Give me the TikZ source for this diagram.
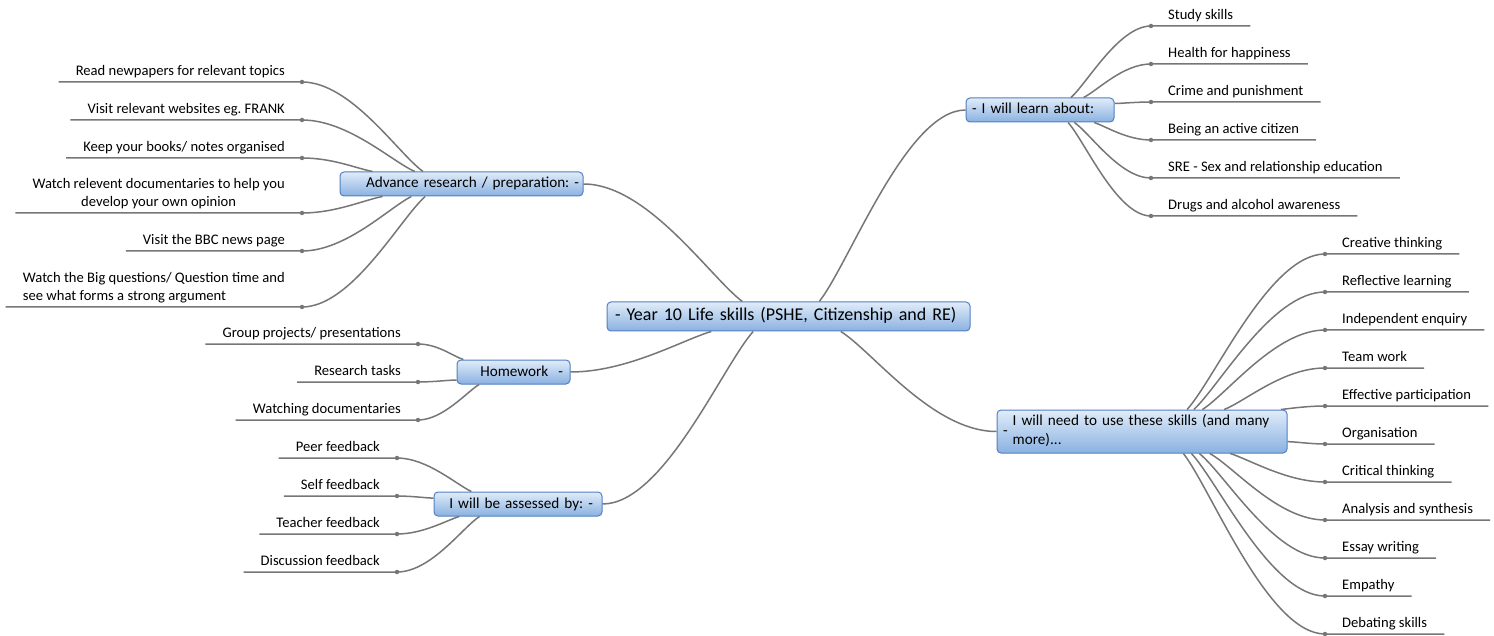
\documentclass[tikz,border=0pt]{standalone}
\usepackage{fontspec}
\setmainfont{Carlito}
\frenchspacing

\definecolor{linegray}{RGB}{118,118,118}
\definecolor{boxtop}{RGB}{224,236,249}
\definecolor{boxbot}{RGB}{138,177,225}
\definecolor{boxline}{RGB}{82,128,194}

\tikzset{
  topic/.style={draw=boxline, line width=1pt, rounded corners=4pt, top color=boxtop, bottom color=boxbot, text=black, inner ysep=0pt, minimum height=24pt, font=\fontsize{15.2}{19}\selectfont},
  oneline/.style={text height=11pt, text depth=3pt},
  leafR/.style={anchor=south west, inner xsep=17pt, inner ysep=3pt, text depth=3pt, font=\fontsize{14.6}{18}\selectfont},
  leafL/.style={leafR, anchor=south east},
  link/.style={draw=linegray, line width=1.5pt},
  dotmark/.style={circle, fill=linegray, inner sep=0pt, minimum size=4.5pt},
}

\begin{document}
\begin{tikzpicture}[x=1pt,y=-1pt]
\path[use as bounding box] (0,0) rectangle (1494,636);

%Main topic
\node[topic, oneline, minimum height=29pt, inner xsep=8pt, text width=347pt, align=left, font=\fontsize{18}{22}\selectfont] (lifeskills) at (788.5,316.5) {\mbox{- Year 10 Life skills (PSHE, Citizenship and RE)}};

%Sub topics
\node[topic, oneline, inner xsep=6pt, text width=136pt, align=left] (learn) at (1040,110) {\mbox{- I will learn about:}};
\node[topic, oneline, inner xsep=4pt, text width=235pt, align=right] (research) at (461.5,184) {\mbox{Advance research / preparation: -}};
\node[topic, oneline, inner xsep=7pt, text width=99pt, align=right] (homework) at (513.5,372) {\mbox{Homework\hspace{10pt}-}};
\node[topic, oneline, inner xsep=9pt, text width=150pt, align=right] (assessed) at (518,504) {\mbox{I will be assessed by: -}};
\node[topic, minimum height=43pt, inner xsep=6pt, text width=278pt, align=left] (skills) at (1142,431.5) {\begin{tabular}{@{}l@{\hspace{5pt}}l@{}}- & \begin{tabular}{@{}l@{}}I will need to use these skills (and many\\more)...\end{tabular}\end{tabular}};

% Text Node
\node[leafR] (study) at (1151,26) {Study skills};
\node[leafR] (health) at (1151,64) {Health for happiness};
\node[leafR] (crime) at (1151,102) {Crime and punishment};
\node[leafR] (citizen) at (1151,140) {Being an active citizen};
\node[leafR] (sre) at (1151,178) {SRE - Sex and relationship education};
\node[leafR] (drugs) at (1151,216) {Drugs and alcohol awareness};
% Text Node
\node[leafL] (newspapers) at (302,82) {Read newpapers for relevant topics};
\node[leafL] (websites) at (302,120) {Visit relevant websites eg. FRANK};
\node[leafL] (books) at (302,158) {Keep your books/ notes organised};
\node[leafL, align=center] (documentaries) at (302,213) {Watch relevent documentaries to help you\\develop your own opinion};
\node[leafL] (bbc) at (302,251) {Visit the BBC news page};
\node[leafL, align=left] (bigq) at (302,307) {Watch the Big questions/ Question time and\\see what forms a strong argument};
% Text Node
\node[leafL] (groupproj) at (418,344) {Group projects/ presentations};
\node[leafL] (restasks) at (418,382) {Research tasks};
\node[leafL] (watchdocs) at (418,420) {Watching documentaries};
% Text Node
\node[leafL] (peer) at (397,458) {Peer feedback};
\node[leafL] (self) at (397,496) {Self feedback};
\node[leafL] (teacher) at (397,534) {Teacher feedback};
\node[leafL] (discussion) at (397,572) {Discussion feedback};
% Text Node
\node[leafR] (creative) at (1325,254) {Creative thinking};
\node[leafR] (reflective) at (1325,292) {Reflective learning};
\node[leafR] (enquiry) at (1325,330) {Independent enquiry};
\node[leafR] (teamwork) at (1325,368) {Team work};
\node[leafR] (participation) at (1325,406) {Effective participation};
\node[leafR] (organisation) at (1325,444) {Organisation};
\node[leafR] (critical) at (1325,482) {Critical thinking};
\node[leafR] (analysis) at (1325,520) {Analysis and synthesis};
\node[leafR] (essay) at (1325,558) {Essay writing};
\node[leafR] (empathy) at (1325,596) {Empathy};
\node[leafR] (debating) at (1325,634) {Debating skills};

%Curve Lines: main topic to sub topics
\draw[link] (lifeskills.162) .. controls +(-32,-24) and +(64,0) .. (research.east);
\draw[link] (lifeskills.26) .. controls +(30,-38) and +(-59,0) .. (learn.west);
\draw[link] (lifeskills.-169) .. controls +(-28,8) and +(57,0) .. (homework.east);
\draw[link] (lifeskills.-157) .. controls +(-31,35) and +(61,0) .. (assessed.east);
\draw[link] (lifeskills.-16) .. controls +(32,20) and +(-64,0) .. (skills.west);

%Curve Lines: I will learn about
\draw[link] (learn.22) .. controls +(16,-14) and +(-32,0) .. (study.south west) node[dotmark] {} -- (study.south east);
\draw[link] (learn.16) .. controls +(14,-7) and +(-28,0) .. (health.south west) node[dotmark] {} -- (health.south east);
\draw[link] (learn.5) .. controls +(7,0) and +(-15,0) .. (crime.south west) node[dotmark] {} -- (crime.south east);
\draw[link] (learn.-13) .. controls +(12,4) and +(-24,0) .. (citizen.south west) node[dotmark] {} -- (citizen.south east);
\draw[link] (learn.-20) .. controls +(16,11) and +(-31,0) .. (sre.south west) node[dotmark] {} -- (sre.south east);
\draw[link] (learn.-24) .. controls +(17,19) and +(-34,0) .. (drugs.south west) node[dotmark] {} -- (drugs.south east);

%Curve Lines: Advance research
\draw[link] (research.162) .. controls +(-25,-18) and +(49,0) .. (newspapers.south east) node[dotmark] {} -- (newspapers.south west);
\draw[link] (research.165) .. controls +(-23,-10) and +(46,0) .. (websites.south east) node[dotmark] {} -- (websites.south west);
\draw[link] (research.172) .. controls +(-16,-3) and +(31,0) .. (books.south east) node[dotmark] {} -- (books.south west);
\draw[link] (research.-171) .. controls +(-17,3) and +(34,0) .. (documentaries.south east) node[dotmark] {} -- (documentaries.south west);
\draw[link] (research.-166) .. controls +(-22,11) and +(44,0) .. (bbc.south east) node[dotmark] {} -- (bbc.south west);
\draw[link] (research.-161) .. controls +(-25,22) and +(50,0) .. (bigq.south east) node[dotmark] {} -- (bigq.south west);

%Curve Lines: Homework
\draw[link] (homework.166) .. controls +(-10,-3) and +(20,0) .. (groupproj.south east) node[dotmark] {} -- (groupproj.south west);
\draw[link] (homework.-172) .. controls +(-8,0) and +(16,0) .. (restasks.south east) node[dotmark] {} -- (restasks.south west);
\draw[link] (homework.-160) .. controls +(-12,7) and +(25,0) .. (watchdocs.south east) node[dotmark] {} -- (watchdocs.south west);

%Curve Lines: assessed by
\draw[link] (assessed.165) .. controls +(-15,-7) and +(30,0) .. (peer.south east) node[dotmark] {} -- (peer.south west);
\draw[link] (assessed.176) .. controls +(-7,0) and +(15,0) .. (self.south east) node[dotmark] {} -- (self.south west);
\draw[link] (assessed.-168) .. controls +(-13,4) and +(26,0) .. (teacher.south east) node[dotmark] {} -- (teacher.south west);
\draw[link] (assessed.-162) .. controls +(-17,11) and +(34,0) .. (discussion.south east) node[dotmark] {} -- (discussion.south west);

%Curve Lines: skills
\draw[link] (skills.26) .. controls +(28,-31) and +(-55,0) .. (creative.south west) node[dotmark] {} -- (creative.south east);
\draw[link] (skills.23) .. controls +(26,-24) and +(-53,0) .. (reflective.south west) node[dotmark] {} -- (reflective.south east);
\draw[link] (skills.20) .. controls +(25,-16) and +(-49,0) .. (enquiry.south west) node[dotmark] {} -- (enquiry.south east);
\draw[link] (skills.15) .. controls +(21,-8) and +(-42,0) .. (teamwork.south west) node[dotmark] {} -- (teamwork.south east);
\draw[link] (skills.9) .. controls +(9,-1) and +(-18,0) .. (participation.south west) node[dotmark] {} -- (participation.south east);
\draw[link] (skills.-4) .. controls +(8,0) and +(-15,0) .. (organisation.south west) node[dotmark] {} -- (organisation.south east);
\draw[link] (skills.-14) .. controls +(19,6) and +(-38,0) .. (critical.south west) node[dotmark] {} -- (critical.south east);
\draw[link] (skills.-18) .. controls +(24,13) and +(-47,0) .. (analysis.south west) node[dotmark] {} -- (analysis.south east);
\draw[link] (skills.-21) .. controls +(26,21) and +(-51,0) .. (essay.south west) node[dotmark] {} -- (essay.south east);
\draw[link] (skills.-24) .. controls +(27,29) and +(-54,0) .. (empathy.south west) node[dotmark] {} -- (empathy.south east);
\draw[link] (skills.-28) .. controls +(28,36) and +(-57,0) .. (debating.south west) node[dotmark] {} -- (debating.south east);

\end{tikzpicture}
\end{document}
